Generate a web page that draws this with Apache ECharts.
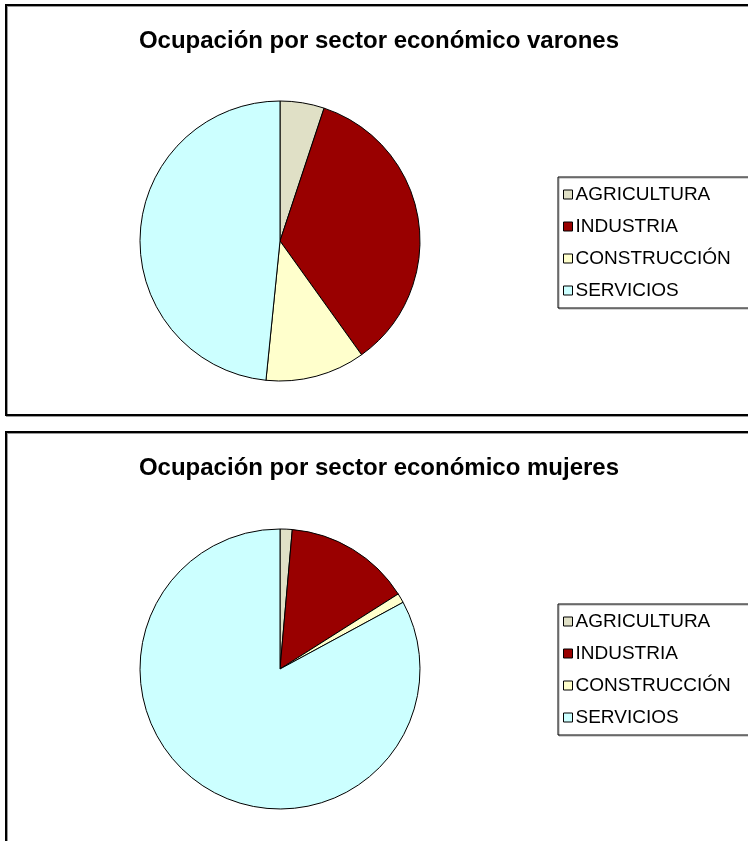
<!DOCTYPE html>
<html>
<head>
  <meta charset="utf-8">
  <title>Ocupación por sector económico</title>
  <script src="https://cdn.jsdelivr.net/npm/echarts@6/dist/echarts.min.js"></script>
  <style>
    html, body { margin: 0; padding: 0; background: #fff; }
  </style>
</head>
<body>
  <div id="main" style="width: 748px;height:841px;"></div>
  <script type="text/javascript">
    // sectors and colours
    var sectores = ['AGRICULTURA', 'INDUSTRIA', 'CONSTRUCCIÓN', 'SERVICIOS'];
    var colores = ['#E0E0C6', '#990000', '#FFFFCC', '#CCFFFF'];

    // percentages
    var varones = [5.1, 35.0, 11.5, 48.4];
    var mujeres = [1.4, 14.6, 1.1, 82.9];

    var titulos = ['Ocupación por sector económico varones', 'Ocupación por sector económico mujeres'];

    var myChart = echarts.init(document.getElementById('main'));

    function pieData(values) {
      return sectores.map(function (name, i) {
        return { name: name, value: values[i], itemStyle: { color: colores[i] } };
      });
    }

    function legendAt(top) {
      return {
        orient: 'vertical',
        left: 558,
        top: top,
        icon: 'rect',
        itemWidth: 9,
        itemHeight: 9,
        itemGap: 13,
        padding: [8, 40, 8, 5],
        borderColor: '#000',
        borderWidth: 1,
        shadowColor: 'rgba(0,0,0,0.35)',
        shadowOffsetX: 1,
        shadowOffsetY: 1,
        selectedMode: false,
        itemStyle: { borderColor: '#000', borderWidth: 1 },
        textStyle: { fontFamily: 'Liberation Sans, Arial', fontSize: 19, color: '#000', lineHeight: 19, padding: [0, 0, 0, -2] },
        data: sectores
      };
    }

    function panel(y, h) {
      return {
        type: 'rect',
        shape: { x: 6, y: y, width: 760, height: h },
        style: {
          fill: '#fff', stroke: '#000', lineWidth: 2,
          shadowColor: 'rgba(0,0,0,0.4)', shadowOffsetX: 1, shadowOffsetY: 1
        },
        z: -10
      };
    }

    function titulo(text, y) {
      return {
        type: 'text',
        x: 379,
        y: y,
        style: {
          text: text,
          fill: '#000',
          font: 'bold 24px "Liberation Sans", Arial',
          textAlign: 'center',
          textVerticalAlign: 'middle'
        }
      };
    }

    function pieSerie(values, cy) {
      return {
        type: 'pie',
        center: [280, cy],
        radius: 140,
        startAngle: 90,
        clockwise: true,
        animation: false,
        silent: true,
        label: { show: false },
        labelLine: { show: false },
        itemStyle: { borderColor: '#000', borderWidth: 1 },
        data: pieData(values)
      };
    }

    var option = {
      animation: false,
      backgroundColor: '#fff',
      graphic: [
        panel(5, 410),
        panel(432, 430),
        titulo(titulos[0], 41),
        titulo(titulos[1], 468)
      ],
      legend: [legendAt(177), legendAt(604)],
      series: [
        pieSerie(varones, 241),
        pieSerie(mujeres, 669)
      ]
    };

    myChart.setOption(option);
  </script>
</body>
</html>
